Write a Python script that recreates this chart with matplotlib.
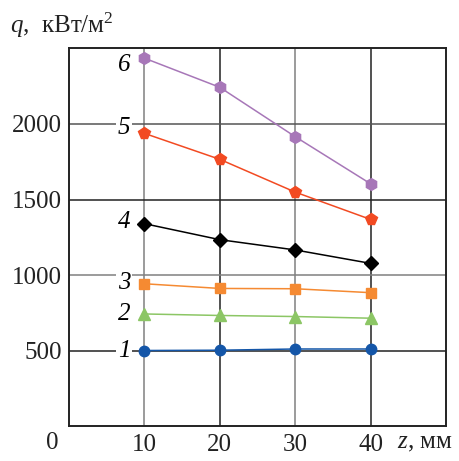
import numpy as np
import matplotlib.pyplot as plt

plt.rcParams['font.family'] = ['Liberation Serif', 'DejaVu Serif']
plt.rcParams['mathtext.fontset'] = 'custom'
plt.rcParams['mathtext.rm'] = 'Liberation Serif'
plt.rcParams['mathtext.it'] = 'Liberation Serif:italic'

z = [10, 20, 30, 40]
q1 = [500, 502, 510, 510]
q2 = [742, 732, 725, 714]
q3 = [942, 911, 909, 883]
q4 = [1340, 1234, 1166, 1077]
q5 = [1938, 1766, 1549, 1368]
q6 = [2436, 2243, 1916, 1604]
labels = ["1", "2", "3", "4", "5", "6"]
label_y = [500, 745, 950, 1350, 1973, 2391]

series = [q1, q2, q3, q4, q5, q6]
colors = ["#1456a8", "#8cc665", "#f58a32", "#000000", "#f24a22", "#a777b8"]
markers = ["o", "^", "s", "D", "p", "h"]
msizes = [7.5, 8, 7, 7, 8.5, 8.5]

fig = plt.figure(figsize=(4.59, 4.61), dpi=100)
ax = fig.add_axes([0.1503, 0.0759, 0.8214, 0.8189])

ax.set_xlim(0, 50)
ax.set_ylim(0, 2500)

# grid lines, alternating dark / grey like the original
for xv, c in zip([10, 20, 30, 40], ["#808080", "#222222", "#808080", "#222222"]):
    ax.axvline(xv, color=c, lw=1.1, zorder=1)
for yv, c in zip([500, 1000, 1500, 2000], ["#222222", "#808080", "#222222", "#555555"]):
    ax.axhline(yv, color=c, lw=1.1, zorder=1)

for s, c, m, ms in zip(series, colors, markers, msizes):
    ax.plot(z, s, color=c, lw=1.1, marker=m, markersize=ms,
            markeredgecolor=c, zorder=3)

for lab, ly in zip(labels, label_y):
    ax.text(7.3, ly, lab, fontsize=18, fontstyle='italic', ha='center', va='center',
            bbox=dict(fc='white', ec='none', pad=1), zorder=2)

ax.set_xticks([10, 20, 30, 40])
ax.set_xticklabels(["10", "20", "30", "40"])
ax.set_yticks([500, 1000, 1500, 2000])
ax.set_yticklabels(["500", "1000", "1500", "2000"])
ax.tick_params(length=0, labelsize=18, colors="#222222")
ax.tick_params(axis='x', pad=6)
ax.tick_params(axis='y', pad=5)

for sp in ax.spines.values():
    sp.set_linewidth(1.4)
    sp.set_color("#222222")

fig.text(52 / 459, 1 - 443 / 461, "0", fontsize=18, ha='center', va='center', color="#222222")
fig.text(10 / 459, 1 - 25 / 461, r"$q$,  кВт/м$^2$", fontsize=18, ha='left', va='center', color="#222222")
fig.text(397 / 459, 1 - 443 / 461, r"$z$, мм", fontsize=18, ha='left', va='center', color="#222222")

fig.savefig("out.png", dpi=100)
